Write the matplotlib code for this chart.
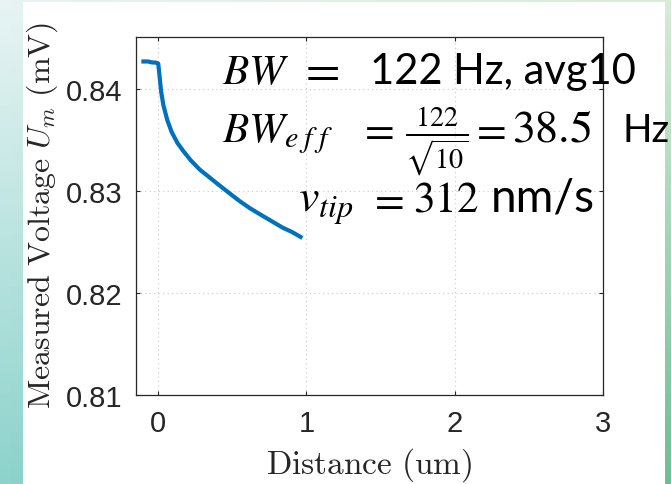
import numpy as np
import matplotlib.pyplot as plt
from matplotlib.patches import Rectangle

# distance (um) and measured voltage (mV)
x_um = [-0.10, -0.07, -0.04, -0.02, 0.00, 0.01, 0.02, 0.035, 0.06, 0.09,
        0.13, 0.17, 0.22, 0.28, 0.34, 0.40, 0.47, 0.55, 0.62, 0.70,
        0.77, 0.84, 0.90, 0.96]
u_mV = [0.8427, 0.8427, 0.8426, 0.8426, 0.8425, 0.8411, 0.8397, 0.8384,
        0.8370, 0.8358, 0.8347, 0.8339, 0.8330, 0.8321, 0.8314, 0.8307,
        0.8299, 0.8290, 0.8283, 0.8276, 0.8270, 0.8264, 0.8260, 0.8255]

xticks = [0, 1, 2, 3]
yticks = [0.81, 0.82, 0.83, 0.84]
ytick_labels = ["0.81", "0.82", "0.83", "0.84"]

W, H = 671, 485
fig = plt.figure(figsize=(W / 100, H / 100), dpi=100)

# slide-like gradient behind the white panel
bg = fig.add_axes([0, 0, 1, 1], zorder=-2)
tl = np.array([232, 244, 244]) / 255
tr = np.array([214, 236, 214]) / 255
bl = np.array([141, 211, 204]) / 255
br = np.array([108, 192, 144]) / 255
gx = np.linspace(0, 1, 64)[None, :, None]
gy = np.linspace(0, 1, 64)[:, None, None]
img = (1 - gy) * ((1 - gx) * tl + gx * tr) + gy * ((1 - gx) * bl + gx * br)
bg.imshow(img, aspect="auto", extent=[0, 1, 0, 1], origin="upper")
bg.axis("off")
fig.patches.append(Rectangle((23 / W, 0), (665 - 23) / W, 1 - 3 / H,
                             transform=fig.transFigure, facecolor="white",
                             edgecolor="none", zorder=-1))

ax = fig.add_axes([136 / W, 1 - 396 / H, (603 - 136) / W, (396 - 38) / H])
ax.plot(x_um, u_mV, color="#0072BD", linewidth=3)

ax.set_xlim(-0.15, 3)
ax.set_ylim(0.81, 0.8451)
ax.set_xticks(xticks)
ax.set_yticks(yticks)
ax.set_yticklabels(ytick_labels)
ax.tick_params(direction="in", length=3, width=0.8, colors="#262626",
               labelsize=21, top=True, right=True, pad=10)
for lab in ax.get_xticklabels() + ax.get_yticklabels():
    lab.set_fontfamily("Liberation Sans")
for s in ax.spines.values():
    s.set_color("#262626")
    s.set_linewidth(0.9)
ax.grid(True, linestyle=(0, (1, 3)), color="#c8c8c8", linewidth=0.8)

ax.set_xlabel(r"$\mathrm{Distance\ (um)}$", fontsize=24, color="#262626",
              math_fontfamily="cm")
ax.set_ylabel(r"$\mathrm{Measured\ Voltage\ }U_m\mathrm{\ (mV)}$",
              fontsize=23, color="#262626", math_fontfamily="cm")
ax.xaxis.set_label_coords(0.5, (396 - 446) / 358)
ax.yaxis.set_label_coords((60 - 136) / 467, (396 - 215) / 358)

# annotation block
def put(px, py, s, size=30):
    fig.text(px / W, 1 - py / H, s, fontsize=size, fontfamily="Lato",
             math_fontfamily="stix", va="baseline", ha="left", color="black")

put(222, 84, r"$BW$", 31)
put(298, 84, r"$=$", 36)
put(370, 84, "122 Hz, avg10")
put(222, 142, r"$BW_{e\;f\;f}$", 31)
put(358, 142, r"$=$", 31)
put(405, 142, r"$\frac{122}{\sqrt{10}}$", 29)
put(470, 142, r"$=$", 31)
put(512, 142, r"$38.5$", 33)
put(622, 142, "Hz", 28)
put(298, 212, r"$v_{tip}$", 33)
put(368, 212, r"$=$", 31)
put(413, 212, r"$312$", 31)
put(491, 212, "nm/s", 33)

fig.savefig("out.png", dpi=100)
